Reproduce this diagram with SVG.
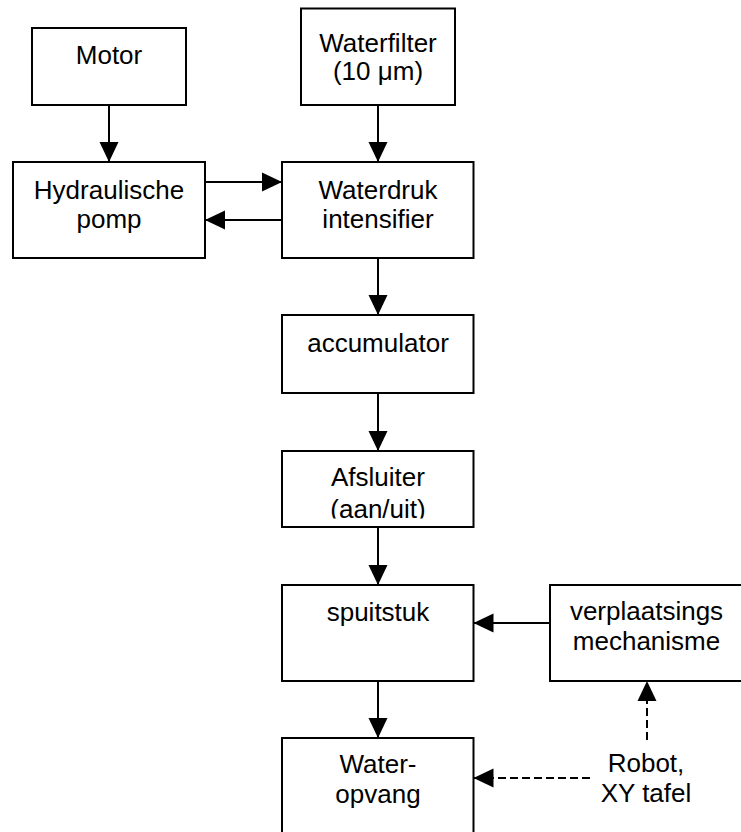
<svg xmlns="http://www.w3.org/2000/svg" width="741" height="832" viewBox="0 0 741 832">
<style>
.box{fill:#fff;stroke:#000;stroke-width:2}
.t{font-family:"Liberation Sans",Arial,sans-serif;font-size:26px;fill:#000;text-anchor:middle}
.c{fill:none;stroke:#000;stroke-width:2}
.d{stroke-dasharray:8 4}
</style>
<defs>
<marker id="ah" markerUnits="userSpaceOnUse" markerWidth="20" markerHeight="20" refX="20" refY="9.5" orient="auto" viewBox="0 0 20 19">
<path d="M0,0 L20,9.5 L0,19 z" fill="#000"/>
</marker>
<clipPath id="clipAfs"><rect x="282" y="451" width="192" height="67.5"/></clipPath>
</defs>
<rect width="741" height="832" fill="#fff"/>
<g id="connectors">
<path class="c" d="M109,105 V162" marker-end="url(#ah)"/>
<path class="c" d="M378,105 V162" marker-end="url(#ah)"/>
<path class="c" d="M205,182 H282" marker-end="url(#ah)"/>
<path class="c" d="M282,220 H205" marker-end="url(#ah)"/>
<path class="c" d="M378,258 V315" marker-end="url(#ah)"/>
<path class="c" d="M378,393 V451" marker-end="url(#ah)"/>
<path class="c" d="M378,527 V585" marker-end="url(#ah)"/>
<path class="c" d="M550,623 H473.5" marker-end="url(#ah)"/>
<path class="c" d="M378,681 V738" marker-end="url(#ah)"/>
<path class="c d" d="M590,778 H473.5" marker-end="url(#ah)"/>
<path class="c d" d="M647,740 V681" marker-end="url(#ah)"/>
</g>
<g id="motor">
<rect class="box" x="32" y="28" width="154" height="77"/>
<text class="t" x="109" y="64">Motor</text>
</g>
<g id="waterfilter">
<rect class="box" x="301" y="8.5" width="154" height="96.5"/>
<text class="t" x="378" y="52">Waterfilter</text>
<text class="t" x="378" y="80">(10 μm)</text>
</g>
<g id="hydraulische-pomp">
<rect class="box" x="13" y="162" width="192" height="96"/>
<text class="t" x="109" y="199">Hydraulische</text>
<text class="t" x="109" y="228">pomp</text>
</g>
<g id="waterdruk-intensifier">
<rect class="box" x="282" y="162" width="191.5" height="96"/>
<text class="t" x="378" y="199">Waterdruk</text>
<text class="t" x="378" y="228">intensifier</text>
</g>
<g id="accumulator">
<rect class="box" x="282" y="315" width="191.5" height="78"/>
<text class="t" x="378" y="352">accumulator</text>
</g>
<g id="afsluiter">
<rect class="box" x="282" y="451" width="191.5" height="76"/>
<g clip-path="url(#clipAfs)">
<text class="t" x="378" y="486">Afsluiter</text>
<text class="t" x="378" y="518">(aan/uit)</text>
</g>
</g>
<g id="spuitstuk">
<rect class="box" x="282" y="585" width="191.5" height="96"/>
<text class="t" x="378" y="621">spuitstuk</text>
</g>
<g id="verplaatsingsmechanisme">
<rect class="box" x="550" y="585" width="193" height="96"/>
<text class="t" x="646.5" y="620">verplaatsings</text>
<text class="t" x="646.5" y="650">mechanisme</text>
</g>
<g id="water-opvang">
<rect class="box" x="282" y="738" width="191.5" height="104"/>
<text class="t" x="378" y="773">Water-</text>
<text class="t" x="378" y="803">opvang</text>
</g>
<g id="robot-xy-tafel">
<text class="t" x="646" y="772">Robot,</text>
<text class="t" x="646" y="802">XY tafel</text>
</g>
</svg>
